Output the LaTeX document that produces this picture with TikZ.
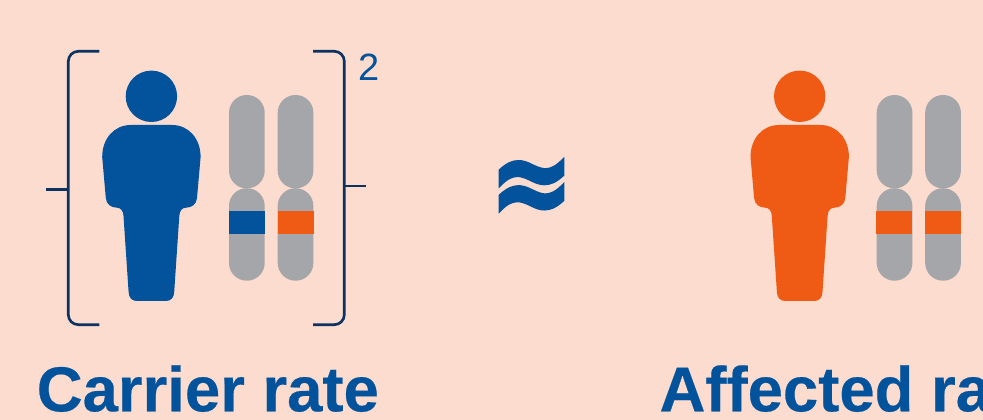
\documentclass[tikz,border=0pt]{standalone}
\usepackage{fontspec}
\setmainfont[BoldFeatures={FakeBold=0.35}]{Liberation Sans}
\newfontfamily\apxfont[FakeBold=2.5]{DejaVu Sans Bold}
\definecolor{bgc}{HTML}{FBDCCF}
\definecolor{blu}{HTML}{02539B}
\definecolor{org}{HTML}{EF5B14}
\definecolor{gry}{HTML}{A5A6AA}
\definecolor{nav}{HTML}{0B3260}
\tikzset{
  brk/.style={draw=nav,line width=2pt,rounded corners=7.5pt},
  tick/.style={draw=nav,line width=2pt},
  arm/.style={fill=gry,rounded corners=13.3pt},
  title/.style={inner sep=0pt,anchor=base west,text=blu,font=\bfseries\fontsize{47.6}{48}\selectfont},
  person/.pic={
    \fill[pic actions] (151.4,96.3) circle[radius=25.7*0.75pt];
    \fill[pic actions] (172,125) .. controls (189,125) and (200.6,139) .. (200.6,157)
      -- (197,198) .. controls (196.5,204) and (192,207.7) .. (186,207.7)
      .. controls (182,207.7) and (179.5,211) .. (179.3,216)
      -- (174.2,292) .. controls (174,297.5) and (171,301) .. (166,301)
      -- (136.8,301) .. controls (131.8,301) and (128.8,297.5) .. (128.6,292)
      -- (123.5,216) .. controls (123.3,211) and (120.8,207.7) .. (116.8,207.7)
      .. controls (110.8,207.7) and (106.3,204) .. (105.8,198)
      -- (102.2,157) .. controls (102.2,139) and (113.8,125) .. (130.8,125) -- cycle;
  },
}
\begin{document}
\begin{tikzpicture}[x=0.75pt,y=-0.75pt]
\useasboundingbox (0,0) rectangle (983,420);
\fill[bgc] (0,0) rectangle (983,420);
% brackets
\draw[brk] (99.3,51.3) -- (68.3,51.3) -- (68.3,324.7) -- (99.3,324.7);
\draw[brk] (313,51.3) -- (344.3,51.3) -- (344.3,324.7) -- (313,324.7);
\draw[tick] (46,189.7) -- (68.3,189.7);
\draw[tick] (344.3,186) -- (365.7,186);
% people
\pic[fill=blu] {person};
\pic[fill=org,xshift=648.3*0.75pt] {person};
% chromosomes
\foreach \x in {229,277.7,876.7,925.2}{
  \fill[arm] (\x,95) rectangle (\x+35.7,188.4);
  \fill[arm] (\x,188.2) rectangle (\x+35.7,280.7);
}
\fill[blu] (229,211) rectangle (265,233.7);
\fill[org] (278,211) rectangle (314,233.7);
\fill[org] (876,211) rectangle (912,233.7);
\fill[org] (925,211) rectangle (961,233.7);
% texts
\node[inner sep=0pt,anchor=base west,text=blu,font=\fontsize{28.5}{29}\selectfont] (sq) at (358,80.5) {2};
\node[inner sep=0pt,anchor=center,text=blu,font=\apxfont\fontsize{90}{90}\selectfont] (apx) at (531.5,192) {\scalebox{0.84}[1.03]{≈}};
\node[title] (carrier) at (36.5,411.3) {Carrier rate};
\node[title] (affected) at (659.3,411.3) {Affected ra};
\end{tikzpicture}
\end{document}
